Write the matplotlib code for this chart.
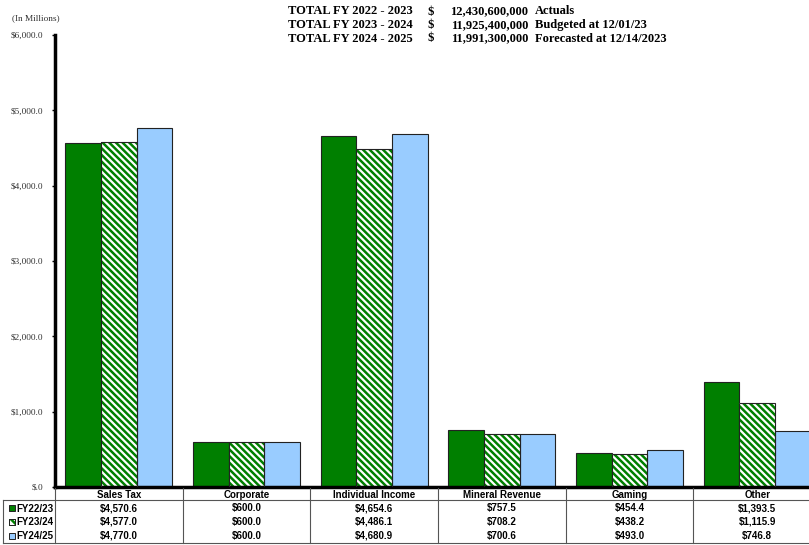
import matplotlib.pyplot as plt
import matplotlib.transforms as mtransforms
from matplotlib.patches import Rectangle
from matplotlib.lines import Line2D

categories = ['Sales Tax', 'Corporate', 'Individual Income', 'Mineral Revenue', 'Gaming', 'Other']
series_names = ['FY22/23', 'FY23/24', 'FY24/25']
fy2223 = [4570.6, 600.0, 4654.6, 757.5, 454.4, 1393.5]
fy2324 = [4577.0, 600.0, 4486.1, 708.2, 438.2, 1115.9]
fy2425 = [4770.0, 600.0, 4680.9, 700.6, 493.0, 746.8]
yticks = [0, 1000, 2000, 3000, 4000, 5000, 6000]
ytick_labels = ['$.0', '$1,000.0', '$2,000.0', '$3,000.0', '$4,000.0', '$5,000.0', '$6,000.0']
totals = [
    ('TOTAL FY 2022 - 2023', '12,430,600,000', 'Actuals'),
    ('TOTAL FY 2023 - 2024', '11,925,400,000', 'Budgeted at 12/01/23'),
    ('TOTAL FY 2024 - 2025', '11,991,300,000', 'Forecasted at 12/14/2023'),
]

GREEN = '#007F00'
BLUE = '#99CCFF'
EDGE = '#222222'
W, H = 809, 545

plt.rcParams['hatch.linewidth'] = 1.8
plt.rcParams['hatch.color'] = GREEN

fig = plt.figure(figsize=(W / 100, H / 100), dpi=100)

def fx(px):
    return px / W

def fy(py):
    return 1 - py / H

# axes: x from 55 to 821 px (cut at right), y from 35 (6000) to 487 (0)
ax = fig.add_axes([fx(55), fy(487), (821 - 55) / W, (487 - 35) / H])
x = list(range(len(categories)))
bw = 0.28
ax.bar([i - bw for i in x], fy2223, bw, color=GREEN, edgecolor=EDGE, linewidth=0.8, zorder=2)
ax.bar(x, fy2324, bw, color='white', edgecolor=GREEN, hatch='\\\\\\\\\\', linewidth=0, zorder=2)
ax.bar(x, fy2324, bw, fill=False, edgecolor=EDGE, linewidth=0.8, zorder=3)
ax.bar([i + bw for i in x], fy2425, bw, color=BLUE, edgecolor=EDGE, linewidth=0.8, zorder=2)

ax.set_xlim(-0.5, len(categories) - 0.5)
ax.set_ylim(0, 6000)
ax.set_yticks(yticks)
ax.set_yticklabels(ytick_labels, fontfamily='Liberation Serif', fontsize=6.7, color='#333333')
ax.tick_params(axis='y', length=2.5, width=1, pad=6)
ax.set_xticks([])
for s in ['top', 'right']:
    ax.spines[s].set_visible(False)
ax.spines['left'].set_linewidth(2.5)
ax.spines['bottom'].set_linewidth(2.5)

fig.text(fx(12), fy(18), '(In Millions)', fontfamily='Liberation Serif', fontsize=6.7,
         color='#333333', va='center', ha='left')

# totals block at top
for k, (lab, amt, note) in enumerate(totals):
    yy = fy(11.5 + 13.5 * k)
    kw = dict(fontfamily='Liberation Serif', fontweight='bold', fontsize=9, va='center')
    fig.text(fx(288), yy, lab, ha='left', **kw)
    fig.text(fx(427), yy, '$', ha='left', **kw)
    fig.text(fx(528), yy, amt, ha='right', **kw)
    fig.text(fx(535), yy, note, ha='left', **kw)

# data table under the chart
trans = mtransforms.blended_transform_factory(ax.transData, fig.transFigure)
tkw = dict(fontfamily='Liberation Sans', fontweight='bold', fontsize=7, ha='center', va='baseline')
for i, cat in enumerate(categories):
    fig.text(i, fy(497.5), cat, transform=trans, **tkw)
rows = [fy2223, fy2324, fy2425]
row_y = [508, 521.5, 535.5]
for r, vals in enumerate(rows):
    for i, v in enumerate(vals):
        fig.text(i, fy(row_y[r] + 3.5), '${:,.1f}'.format(v), transform=trans, **tkw)

# grid lines of table
line_kw = dict(color='#555555', linewidth=0.8)
for i in range(len(categories) + 1):
    xp = i - 0.5
    fig.add_artist(Line2D([xp, xp], [fy(488), fy(543)], transform=trans, **line_kw))
fig.add_artist(Line2D([fx(3), fx(821)], [fy(500), fy(500)], **line_kw))
fig.add_artist(Line2D([fx(3), fx(821)], [fy(543), fy(543)], **line_kw))
fig.add_artist(Line2D([fx(3), fx(3)], [fy(500), fy(543)], **line_kw))

# legend keys in the table
key_styles = [
    dict(facecolor=GREEN, edgecolor=EDGE),
    dict(facecolor='white', edgecolor=GREEN, hatch='\\\\\\\\'),
    dict(facecolor=BLUE, edgecolor=EDGE),
]
for r, name in enumerate(series_names):
    yc = row_y[r]
    fig.add_artist(Rectangle((fx(9), fy(yc + 3)), 6 / W, 6 / H, linewidth=0.7, **key_styles[r]))
    if r == 1:
        fig.add_artist(Rectangle((fx(9), fy(yc + 3)), 6 / W, 6 / H, fill=False,
                                 edgecolor=EDGE, linewidth=0.7))
    fig.text(fx(16), fy(yc + 3.5), name, fontfamily='Liberation Sans', fontweight='bold',
             fontsize=7, ha='left', va='baseline')

fig.savefig('out.png', dpi=100)
